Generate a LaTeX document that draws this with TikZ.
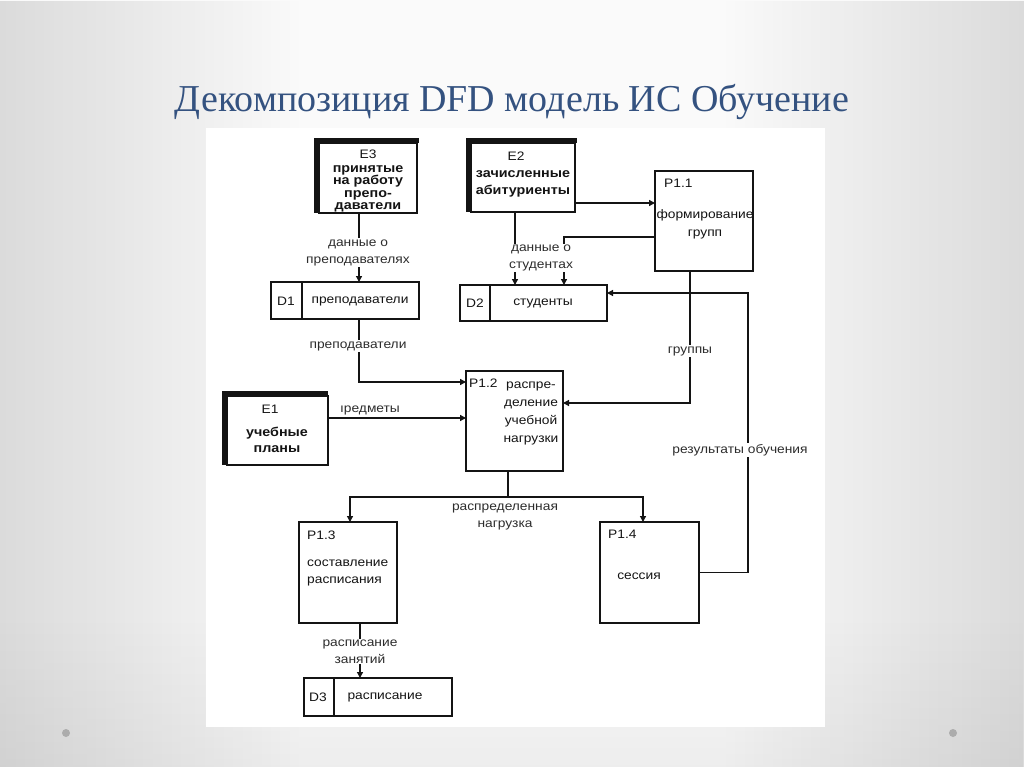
\documentclass[tikz,border=0pt]{standalone}
\usepackage{fontspec}
\setmainfont{Liberation Sans}[FakeStretch=1.12]
\newfontfamily\titlefont{Liberation Serif}
\usetikzlibrary{arrows.meta,calc,fadings}
\definecolor{titleblue}{RGB}{52,82,128}
\definecolor{ink}{RGB}{20,20,20}
\definecolor{lblc}{RGB}{45,45,45}
\begin{document}
\begin{tikzpicture}[x=1pt,y=-1pt,
  boxline/.style={draw=ink, line width=2pt},
  proc/.style={boxline, fill=white, inner sep=0pt, outer sep=0pt},
  store/.style={boxline, fill=white, inner sep=0pt, outer sep=0pt},
  shadowbar/.style={fill=ink},
  txt/.style={font=\fontsize{12.3}{16}\selectfont, align=center, inner sep=1pt, text=ink, yshift=-2.5pt},
  btxt/.style={font=\bfseries\fontsize{12.8}{12.4}\selectfont, align=center, inner sep=1pt, text=ink, yshift=-2.5pt},
  lbl/.style={font=\fontsize{12.3}{17}\selectfont, align=center, inner sep=1pt, text=lblc, yshift=-3pt},
  wlbl/.style={lbl, fill=white},
  flow/.style={draw=ink, line width=1.3pt, -{Triangle[length=6pt,width=6pt]}},
  plain/.style={draw=ink, line width=1.3pt}]
\useasboundingbox (0,0) rectangle (1024,767);
% background
\fill[white!96!gray] (0,0) rectangle (1024,767);
\fill[gray, opacity=0.25, path fading=east] (0,0) rectangle (300,767);
\fill[gray, opacity=0.25, path fading=west] (724,0) rectangle (1024,767);
\fill[gray, opacity=0.10, path fading=north] (0,620) rectangle (1024,767);
\fill[white] (206,128) rectangle (825,727);
\fill[gray!65] (66,733) circle (4);
\fill[gray!65] (953,733) circle (4);
% title
\node[font=\titlefont\fontsize{38}{38}\selectfont, text=titleblue, anchor=base] (title) at (512,112) {Декомпозиция DFD модель ИС Обучение};

% external entities
\node[proc, minimum width=98pt, minimum height=70pt] (e3) at (368,178) {};
\fill[shadowbar] ([shift={(-5,-5)}]e3.north west) rectangle ([shift={(2,0)}]e3.north east);
\fill[shadowbar] ([shift={(-5,-5)}]e3.north west) rectangle (e3.south west);
\node[txt] (e3id) at (368,152) {E3};
\node[btxt] (e3t) at (368,186.5) {принятые\\на работу\\препо-\\даватели};

\node[proc, minimum width=104pt, minimum height=69pt] (e2) at (523,177.5) {};
\fill[shadowbar] ([shift={(-5,-5)}]e2.north west) rectangle ([shift={(2,0)}]e2.north east);
\fill[shadowbar] ([shift={(-5,-5)}]e2.north west) rectangle (e2.south west);
\node[txt] (e2id) at (516,154) {E2};
\node[btxt, font=\bfseries\fontsize{12.8}{17}\selectfont] (e2t) at (523,181) {зачисленные\\абитуриенты};

\node[proc, minimum width=101pt, minimum height=69pt] (e1) at (277.5,430.5) {};
\fill[shadowbar] ([shift={(-5,-5)}]e1.north west) rectangle ([shift={(0,0)}]e1.north east);
\fill[shadowbar] ([shift={(-5,-5)}]e1.north west) rectangle (e1.south west);
\node[txt] (e1id) at (270,407) {E1};
\node[btxt, font=\bfseries\fontsize{12.8}{16}\selectfont] (e1t) at (277,437) {учебные\\планы};

% processes
\node[proc, minimum width=98pt, minimum height=100pt] (p11) at (704,221) {};
\node[txt, anchor=west] (p11id) at (663,181) {P1.1};
\node[txt, font=\fontsize{12.3}{18}\selectfont] (p11t) at (705,222) {формирование\\групп};

\node[proc, minimum width=97pt, minimum height=100pt] (p12) at (514.5,421) {};
\node[txt, anchor=west] (p12id) at (468,381) {P1.2};
\node[txt, font=\fontsize{12.3}{18}\selectfont] (p12t) at (531,410.5) {распре-\\деление\\учебной\\нагрузки};

\node[proc, minimum width=98pt, minimum height=101pt] (p13) at (348,572.5) {};
\node[txt, anchor=west] (p13id) at (306,533) {P1.3};
\node[txt, align=left, anchor=west, font=\fontsize{12.3}{17}\selectfont] (p13t) at (306,570.5) {составление\\расписания};

\node[proc, minimum width=99pt, minimum height=101pt] (p14) at (649.5,572.5) {};
\node[txt, anchor=west] (p14id) at (607,532) {P1.4};
\node[txt] (p14t) at (639,574) {сессия};

% data stores
\node[store, minimum width=148pt, minimum height=37pt] (d1) at (345,300.5) {};
\draw[boxline] ([xshift=31pt]d1.north west) -- ([xshift=31pt]d1.south west);
\node[txt] (d1id) at (286,299) {D1};
\node[txt] (d1t) at (360,299) {преподаватели};

\node[store, minimum width=147pt, minimum height=36pt] (d2) at (533.5,303) {};
\draw[boxline] ([xshift=30pt]d2.north west) -- ([xshift=30pt]d2.south west);
\node[txt] (d2id) at (475,301) {D2};
\node[txt] (d2t) at (543,301) {студенты};

\node[store, minimum width=148pt, minimum height=38pt] (d3) at (378,697) {};
\draw[boxline] ([xshift=30pt]d3.north west) -- ([xshift=30pt]d3.south west);
\node[txt] (d3id) at (318,695) {D3};
\node[txt] (d3t) at (385,695) {расписание};

% connectors
\draw[flow] ([xshift=40pt]e3.south west) -- ([xshift=88pt]d1.north west);
\node[wlbl] (l1) at (358,249.5) {данные о\\преподавателях};

\draw[flow] ([xshift=44pt]e2.south west) -- ([xshift=55pt]d2.north west);
\coordinate (p11l) at ([shift={(0,66)}]p11.north west);
\coordinate (d2t2) at ([xshift=104pt]d2.north west);
\draw[flow] (p11l) -| (d2t2);
\node[wlbl] (l2) at (541,255) {данные о\\студентах};

\coordinate (e2r) at ([shift={(0,60)}]e2.north east);
\draw[flow] (e2r) -- (e2r -| p11.west);

\coordinate (p11b) at ([xshift=35pt]p11.south west);
\coordinate (p12r) at ([shift={(0,32)}]p12.north east);
\draw[flow] (p11b) |- (p12r);
\node[wlbl] (l3) at (690,348) {группы};

\coordinate (d2r) at ([shift={(0,8)}]d2.north east);
\draw[flow] (p14.east) -- ++(49,0) |- (d2r);
\node[wlbl] (l4) at (740,447) {результаты обучения};

\coordinate (d1b) at ([xshift=88pt]d1.south west);
\coordinate (p12l) at ([shift={(0,11)}]p12.north west);
\draw[flow] (d1b) |- (p12l);
\node[wlbl] (l5) at (358,343) {преподаватели};

\coordinate (e1r) at ([shift={(0,22)}]e1.north east);
\draw[flow] (e1r) -- (e1r -| p12.west);
\node[lbl] (l6) at (370,407) {ıредметы};

\coordinate (p12b) at ([xshift=42pt]p12.south west);
\coordinate (j) at ([shift={(42,26)}]p12.south west);
\draw[plain] (p12b) -- (j);
\draw[flow] (j) -| ([xshift=51pt]p13.north west);
\draw[flow] (j) -| ([xshift=43pt]p14.north west);
\node[lbl] (l7) at (505,514) {распределенная\\нагрузка};

\draw[flow] ([xshift=61pt]p13.south west) -- ([xshift=56pt]d3.north west);
\node[wlbl] (l8) at (360,648.5) {расписание\\занятий};
\end{tikzpicture}
\end{document}
